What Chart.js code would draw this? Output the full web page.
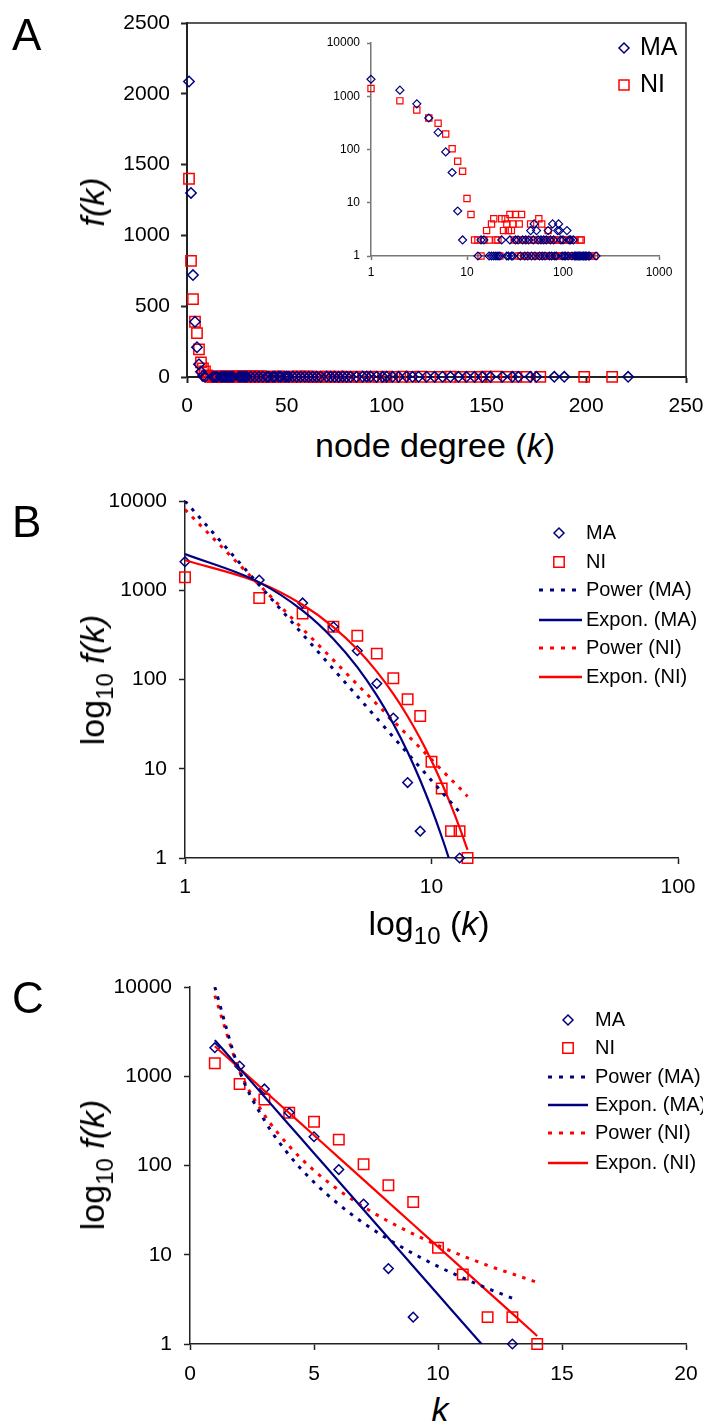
<!DOCTYPE html>
<html>
<head>
<meta charset="utf-8">
<script src="https://cdn.jsdelivr.net/npm/chart.js@4"></script>
<style>
  html, body { margin: 0; padding: 0; background: #fff; }
  #fig { position: relative; width: 703px; height: 1425px; overflow: hidden;
         font-family: "Liberation Sans", Arial, sans-serif; color: #000; }
  #fig canvas { position: absolute; }
  .t { position: absolute; line-height: 1; white-space: nowrap; }
  .cx { transform: translateX(-50%); }
  .rot { transform: translate(-50%, -50%) rotate(-90deg); }
  .sub { font-size: 24px; position: relative; top: 9px; }
</style>
</head>
<body>
<div id="fig">
  <canvas id="chartA" width="703" height="420" style="left:0;top:0"></canvas>
  <canvas id="chartInset" width="362" height="255" style="left:310px;top:30px"></canvas>
  <canvas id="chartB" width="703" height="430" style="left:0;top:480px"></canvas>
  <canvas id="chartC" width="703" height="430" style="left:0;top:960px"></canvas>

  <div class="t" style="left:12px;top:13px;font-size:44px">A</div>
  <div class="t" style="left:12px;top:500px;font-size:44px">B</div>
  <div class="t" style="left:12px;top:976px;font-size:44px">C</div>

  <div class="t cx" style="left:435px;top:428px;font-size:34px">node degree (<i>k</i>)</div>
  <div class="t rot" style="left:92px;top:202px;font-size:34px"><i>f(k)</i></div>

  <div class="t cx" style="left:429px;top:906px;font-size:34px">log<span class="sub">10</span> (<i>k</i>)</div>
  <div class="t rot" style="left:92px;top:680px;font-size:34px">log<span class="sub">10</span> <i>f(k)</i></div>

  <div class="t cx" style="left:440px;top:1392px;font-size:34px"><i>k</i></div>
  <div class="t rot" style="left:92px;top:1165px;font-size:34px">log<span class="sub">10</span> <i>f(k)</i></div>
</div>

<script>
// ---- data ----
const seriesNames = ['MA', 'NI'];
const trendNames = ['Power (MA)', 'Expon. (MA)', 'Power (NI)', 'Expon. (NI)'];

// degree distribution, MA
const maDegree = [1, 2, 3, 4, 5, 6, 7, 8, 9, 13, 14, 15, 17, 18, 19, 20, 21, 22, 23,
  26, 27, 28, 29, 30, 32, 34, 36, 38, 40, 41, 43, 44, 46, 47, 49, 50, 51, 53, 55,
  57, 59, 61, 63, 65, 67, 70, 72, 74, 76, 78, 80, 82, 85, 88, 90, 92, 95, 98, 100,
  103, 106, 110, 113, 116, 120, 124, 128, 132, 136, 140, 144, 148, 152, 158, 163,
  166, 172, 175, 184, 189, 221];
const maCount = [2087, 1300, 720, 390, 210, 90, 37, 7, 2, 1, 2, 2, 1, 1, 1, 1, 1, 1, 2,
  1, 1, 2, 1, 1, 2, 2, 1, 2, 1, 2, 1, 2, 3, 1, 2, 4, 1, 3, 2,
  1, 2, 1, 2, 1, 2, 3, 1, 2, 1, 4, 2, 1, 1, 3, 4, 3, 2, 1, 2,
  1, 1, 3, 1, 2, 2, 1, 2, 1, 1, 1, 1, 1, 1, 1, 1,
  1, 1, 1, 1, 1, 1];

// degree distribution, NI
const niDegree = [1, 2, 3, 4, 5, 6, 7, 8, 9, 10, 11, 12, 13, 14, 15, 16, 17, 18, 19, 20,
  21, 22, 23, 24, 25, 26, 27, 28, 29, 30, 31, 32, 33, 34, 35, 36, 37, 38, 39, 40,
  42, 44, 46, 48, 50, 52, 54, 56, 58, 60, 62, 64, 66, 68, 70, 72, 74, 76, 78, 80,
  83, 86, 89, 93, 96, 100, 104, 108, 112, 117, 122, 127, 132, 137, 142,
  147, 150, 155, 160, 165, 170, 177, 199, 213];
const niCount = [1400, 820, 550, 390, 310, 195, 103, 60, 39, 12, 6, 2, 2, 1, 2, 3, 2, 4, 5, 2,
  2, 1, 5, 3, 5, 4, 3, 6, 3, 4, 2, 6, 2, 1, 4, 1, 6, 2, 1, 2,
  1, 2, 4, 1, 2, 1, 2, 5, 1, 4, 2, 1, 2, 1, 3, 2, 1, 2, 1, 2,
  1, 2, 1, 2, 1, 2, 1, 2, 1, 2, 1, 1, 2, 1, 1,
  1, 2, 2, 1, 1, 1, 1, 1, 1];

// points used for the fits in B and C
const maFitMax = 13;
const niFitMax = 14;

// trend lines read at k = 1, 2, 3, ...
const trendDegree = [1, 2, 3, 4, 5, 6, 7, 8, 9, 10, 11, 12, 13, 14];
const powerMA = [10000, 1143, 321, 130.5, 65, 36.7, 22.6, 14.9, 10.3, 7.4, 5.5, 4.19, 3.26];
const exponMA = [2540, 1225, 591, 285, 137.5, 66.3, 32, 15.4, 7.44, 3.59, 1.73, 0.835, 0.403];
const powerNI = [8000, 1149, 369, 165, 88, 53, 34.4, 23.7, 17.1, 12.7, 9.7, 7.6, 6.1, 4.9];
const exponNI = [2170, 1221, 687, 387, 218, 122.5, 69, 38.8, 21.8, 12.3, 6.92, 3.89, 2.19, 1.23];

// tick labels
const aXTicks = [0, 50, 100, 150, 200, 250];
const aYTicks = [0, 500, 1000, 1500, 2000, 2500];
const insetXTicks = [1, 10, 100, 1000];
const logYTicks = [1, 10, 100, 1000, 10000];
const bXTicks = [1, 10, 100];
const cXTicks = [0, 5, 10, 15, 20];

// ---- drawing ----
const navy = '#000080';
const red = '#ff0000';
const FONT = '"Liberation Sans", Arial, sans-serif';

Chart.defaults.font.family = FONT;
Chart.defaults.color = '#000';
Chart.defaults.animation = false;

function points(xs, ys) {
  return ys.map((y, i) => ({ x: xs[i], y }));
}

function upTo(xs, ys, kMax) {
  return points(xs, ys).filter((p) => p.x <= kMax);
}

function axis(type, min, max, tickValues, o) {
  return {
    type,
    min,
    max,
    border: { display: true, color: o.color, width: o.width },
    grid: {
      display: true,
      drawOnChartArea: false,
      drawTicks: true,
      tickLength: o.tick,
      tickColor: o.color,
      tickWidth: o.width,
    },
    ticks: {
      font: { size: o.font },
      color: '#000',
      padding: o.pad,
      autoSkip: false,
      maxRotation: 0,
      callback: (v) => String(v),
    },
    afterBuildTicks: (s) => {
      s.ticks = tickValues.map((v) => ({ value: v }));
    },
    afterFit: (s) => {
      if (o.w !== undefined) s.width = o.w;
      if (o.h !== undefined) s.height = o.h;
      s.paddingLeft = 0;
      s.paddingRight = 0;
      s.paddingTop = 0;
      s.paddingBottom = 0;
    },
  };
}

function markers(label, data, style, radius, color, width) {
  return {
    label,
    data,
    showLine: false,
    pointStyle: style,
    pointRadius: radius,
    pointHoverRadius: radius,
    pointBorderColor: color,
    pointBackgroundColor: 'rgba(0,0,0,0)',
    pointBorderWidth: width,
    clip: false,
    order: 2,
  };
}

function trend(label, values, color, dotted) {
  return {
    label,
    data: points(trendDegree, values),
    showLine: true,
    pointRadius: 0,
    borderColor: color,
    borderWidth: dotted ? 3 : 2.2,
    borderDash: dotted ? [3.5, 6.5] : [],
    cubicInterpolationMode: 'monotone',
    fill: false,
    order: 1,
  };
}

const figLegend = {
  id: 'figLegend',
  afterDraw(chart, args, opts) {
    if (!opts || !opts.items) return;
    const ctx = chart.ctx;
    ctx.save();
    ctx.font = opts.font;
    ctx.textBaseline = 'middle';
    opts.items.forEach((it) => {
      ctx.strokeStyle = it.color;
      ctx.setLineDash([]);
      ctx.beginPath();
      if (it.kind === 'diamond') {
        const r = opts.diamond;
        ctx.lineWidth = 1.5;
        ctx.moveTo(opts.markerX, it.y - r);
        ctx.lineTo(opts.markerX + r, it.y);
        ctx.lineTo(opts.markerX, it.y + r);
        ctx.lineTo(opts.markerX - r, it.y);
        ctx.closePath();
      } else if (it.kind === 'square') {
        const h = opts.square;
        ctx.lineWidth = 1.5;
        ctx.rect(opts.markerX - h, it.y - h, 2 * h, 2 * h);
      } else {
        ctx.lineWidth = it.kind === 'dotted' ? 3 : 2.5;
        if (it.kind === 'dotted') ctx.setLineDash([4, 7]);
        ctx.moveTo(opts.lineX0, it.y);
        ctx.lineTo(opts.lineX1, it.y);
      }
      ctx.stroke();
      ctx.fillStyle = '#000';
      ctx.fillText(it.text, opts.textX, it.y);
    });
    ctx.restore();
  },
};

const frame = {
  id: 'frame',
  afterDraw(chart, args, opts) {
    if (!opts || !opts.show) return;
    const { left, top, right, bottom } = chart.chartArea;
    const ctx = chart.ctx;
    ctx.save();
    ctx.strokeStyle = opts.color;
    ctx.lineWidth = opts.width;
    ctx.beginPath();
    ctx.moveTo(left, top);
    ctx.lineTo(right, top);
    ctx.lineTo(right, bottom);
    ctx.stroke();
    ctx.restore();
  },
};

Chart.register(figLegend, frame);

function baseOptions(padding, scales, plugins) {
  return {
    responsive: false,
    animation: false,
    events: [],
    layout: { padding },
    scales,
    plugins: Object.assign({ legend: { display: false }, tooltip: { enabled: false } }, plugins),
  };
}

function trendLegend(rows, markerX, lineX0, lineX1, textX) {
  const kinds = ['diamond', 'square', 'dotted', 'solid', 'dotted', 'solid'];
  const colors = [navy, red, navy, navy, red, red];
  const texts = seriesNames.concat(trendNames);
  return {
    font: '20px ' + FONT,
    markerX, lineX0, lineX1, textX,
    diamond: 5,
    square: 5.2,
    items: rows.map((y, i) => ({ kind: kinds[i], color: colors[i], text: texts[i], y })),
  };
}

// Panel A, linear
new Chart(document.getElementById('chartA'), {
  type: 'scatter',
  data: {
    datasets: [
      markers(seriesNames[0], points(maDegree, maCount), 'rectRot', 5.2, navy, 1.5),
      markers(seriesNames[1], points(niDegree, niCount), 'rect', 7.3, red, 1.5),
    ],
  },
  options: baseOptions(
    { left: 107, right: 17, top: 23, bottom: 0 },
    {
      x: axis('linear', 0, 250, aXTicks, { color: '#222', width: 2, tick: 6, pad: 11, font: 21, h: 43 }),
      y: axis('linear', 0, 2500, aYTicks, { color: '#222', width: 2, tick: 6, pad: 11, font: 21, w: 80 }),
    },
    {
      frame: { show: true, color: '#222', width: 1.5 },
      figLegend: {
        font: '25px ' + FONT,
        markerX: 624,
        textX: 640,
        diamond: 5,
        square: 5,
        items: [
          { kind: 'diamond', color: navy, text: seriesNames[0], y: 48 },
          { kind: 'square', color: red, text: seriesNames[1], y: 85 },
        ],
      },
    }
  ),
});

// Panel A inset, log-log
new Chart(document.getElementById('chartInset'), {
  type: 'scatter',
  data: {
    datasets: [
      markers(seriesNames[0], points(maDegree, maCount), 'rectRot', 4, navy, 1.2),
      markers(seriesNames[1], points(niDegree, niCount), 'rect', 4.4, red, 1.2),
    ],
  },
  options: baseOptions(
    { left: 11, right: 13, top: 13, bottom: 0 },
    {
      x: axis('logarithmic', 1, 1000, insetXTicks, { color: '#777', width: 1.5, tick: 4, pad: 5, font: 12, h: 29 }),
      y: axis('logarithmic', 1, 10000, logYTicks, { color: '#777', width: 1.5, tick: 4, pad: 7, font: 12, w: 50 }),
    },
    {}
  ),
});

// Panel B, log-log with fits
new Chart(document.getElementById('chartB'), {
  type: 'scatter',
  data: {
    datasets: [
      trend(trendNames[0], powerMA, navy, true),
      trend(trendNames[1], exponMA, navy, false),
      trend(trendNames[2], powerNI, red, true),
      trend(trendNames[3], exponNI, red, false),
      markers(seriesNames[0], upTo(maDegree, maCount, maFitMax), 'rectRot', 4.8, navy, 1.5),
      markers(seriesNames[1], upTo(niDegree, niCount, niFitMax), 'rect', 7.4, red, 1.5),
    ],
  },
  options: baseOptions(
    { left: 100, right: 25, top: 21, bottom: 0 },
    {
      x: axis('logarithmic', 1, 100, bXTicks, { color: '#222', width: 1.5, tick: 6, pad: 11, font: 21, h: 52 }),
      y: axis('logarithmic', 1, 10000, logYTicks, { color: '#222', width: 1.5, tick: 6, pad: 12, font: 21, w: 85 }),
    },
    { figLegend: trendLegend([53, 82, 110, 140, 168, 197], 559, 539, 582, 586) }
  ),
});

// Panel C, semi-log with fits
new Chart(document.getElementById('chartC'), {
  type: 'scatter',
  data: {
    datasets: [
      trend(trendNames[0], powerMA, navy, true),
      trend(trendNames[1], exponMA, navy, false),
      trend(trendNames[2], powerNI, red, true),
      trend(trendNames[3], exponNI, red, false),
      markers(seriesNames[0], upTo(maDegree, maCount, maFitMax), 'rectRot', 4.8, navy, 1.5),
      markers(seriesNames[1], upTo(niDegree, niCount, niFitMax), 'rect', 7.4, red, 1.5),
    ],
  },
  options: baseOptions(
    { left: 100, right: 17, top: 27, bottom: 0 },
    {
      x: axis('linear', 0, 20, cXTicks, { color: '#222', width: 1.5, tick: 6, pad: 12, font: 21, h: 46 }),
      y: axis('logarithmic', 1, 10000, logYTicks, { color: '#222', width: 1.5, tick: 6, pad: 12, font: 21, w: 90 }),
    },
    { figLegend: trendLegend([60, 88, 117, 145, 173, 203], 568, 548, 588, 595) }
  ),
});
</script>
</body>
</html>
